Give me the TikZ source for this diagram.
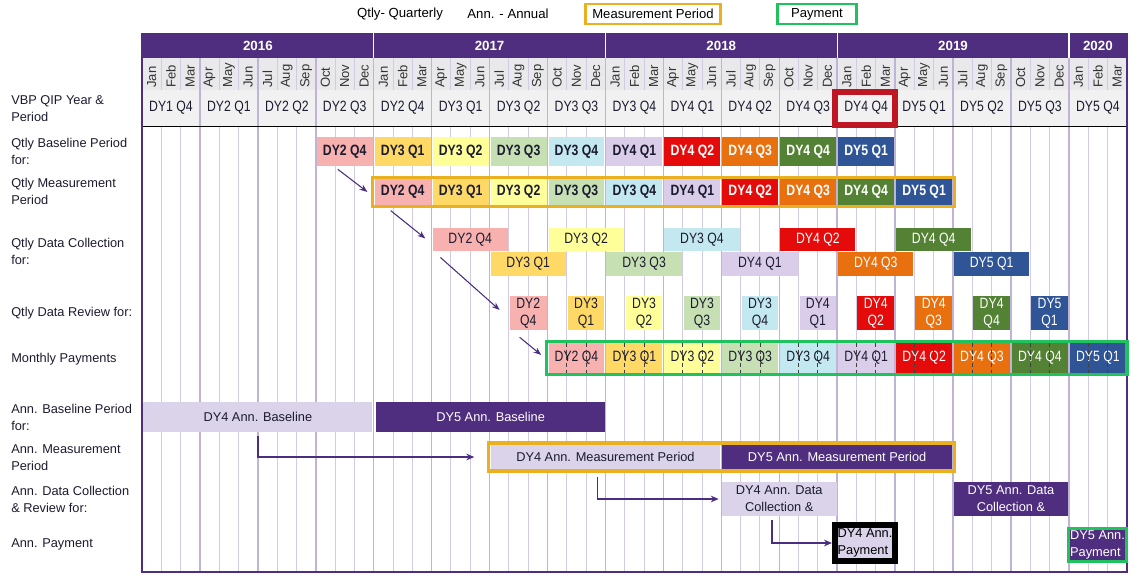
\documentclass[tikz,border=0pt]{standalone}
\usepackage{fontspec}
\setmainfont{Liberation Sans}
\newfontfamily\narrowfont{Liberation Sans}[FakeStretch=0.82]
\usepackage{tikz}
\usetikzlibrary{arrows.meta,calc}
\definecolor{dyPurple}{HTML}{4F2D7F}
\definecolor{arrowPurple}{HTML}{4B2E83}
\definecolor{gridLav}{HTML}{D3CBE3}
\definecolor{qLine}{HTML}{BFB3D6}
\definecolor{monthGrey}{HTML}{E9E9EB}
\definecolor{vbpGrey}{HTML}{F1F1F1}
\definecolor{annLav}{HTML}{DAD3E9}
\definecolor{goldLine}{HTML}{EBB01F}
\definecolor{payGreen}{HTML}{1FC25C}
\definecolor{redFrame}{HTML}{BE1622}
\definecolor{inkDark}{HTML}{1B1B2F}
\definecolor{qPink}{HTML}{F7B1AF}
\definecolor{qGold}{HTML}{FFD966}
\definecolor{qYellow}{HTML}{FFFF99}
\definecolor{qGreen}{HTML}{C6E0B4}
\definecolor{qCyan}{HTML}{C4E8EF}
\definecolor{qLav}{HTML}{DACDEA}
\definecolor{qRed}{HTML}{E60B0B}
\definecolor{qOrange}{HTML}{E8700F}
\definecolor{qDGreen}{HTML}{548235}
\definecolor{qBlue}{HTML}{2F5597}
\def\mw{14.4825pt}% one month
\def\qtrlist{DY2/Q4/qPink/inkDark, DY3/Q1/qGold/inkDark, DY3/Q2/qYellow/inkDark, DY3/Q3/qGreen/inkDark, DY3/Q4/qCyan/inkDark, DY4/Q1/qLav/inkDark, DY4/Q2/qRed/white, DY4/Q3/qOrange/white, DY4/Q4/qDGreen/white, DY5/Q1/qBlue/white}
\begin{document}
\begin{tikzpicture}[x=0.75pt, y=-0.75pt,
  rowlabel/.style={anchor=west, align=left, inner sep=0pt, text=inkDark, font=\fontsize{9.6}{12.7}\selectfont},
  qbar/.style={rectangle, inner sep=0pt, align=center, font=\narrowfont\fontsize{11.2}{12.7}\selectfont},
  qbold/.style={qbar, font=\narrowfont\bfseries\fontsize{11.2}{12.7}\selectfont},
  annbar/.style={rectangle, inner sep=0pt, align=center, font=\fontsize{9.6}{12.7}\selectfont},
  monthlab/.style={rotate=90, anchor=west, inner sep=0pt, text=black!80, font=\fontsize{9.8}{10}\selectfont},
  yearlab/.style={text=white, font=\bfseries\fontsize{10}{12}\selectfont},
  monthline/.style={gridLav, line width=0.75pt},
  qline/.style={qLine, line width=1.1pt},
  paydash/.style={black!75, line width=0.6pt, dash pattern=on 3pt off 2pt},
  flowarrow/.style={arrowPurple, line width=0.8pt, -{Stealth[length=6pt, width=4.5pt]}},
  elbowarrow/.style={arrowPurple, line width=1.4pt, -{Stealth[length=6pt, width=5pt]}},
  legbox/.style={draw, line width=1.9pt, minimum height=15pt, inner sep=0pt, font=\fontsize{9.8}{11}\selectfont},
]
\useasboundingbox (0,0) rectangle (1138,582);

% legend
\node[font=\fontsize{9.9}{11}\selectfont] (legq) at (400,14) {Qtly- Quarterly};
\node[font=\fontsize{9.9}{11}\selectfont] (lega) at (508,14) {Ann. - Annual};
\node[legbox, draw=goldLine, minimum width=101pt] (legm) at (653,14) {Measurement Period};
\node[legbox, draw=payGreen, minimum width=59pt] (legp) at (817,14) {Payment};

% header rows
\fill[dyPurple] (142,33) rectangle (1127,58);
\fill[monthGrey] (142,58) rectangle (1127,90);
\fill[vbpGrey] (142,90) rectangle (1127,126);
\foreach \i in {12,24,36,48} {
  \draw[white, line width=1pt] ({142+19.31*\i},33) -- ({142+19.31*\i},58);
}
\node[yearlab] (yr2016) at ({142+19.31*6},45.5) {2016};
\node[yearlab] (yr2017) at ({142+19.31*18},45.5) {2017};
\node[yearlab] (yr2018) at ({142+19.31*30},45.5) {2018};
\node[yearlab] (yr2019) at ({142+19.31*42},45.5) {2019};
\node[yearlab] (yr2020) at ({142+19.31*49.5},45.5) {2020};

% grid
\foreach \i in {1,...,50} {
  \draw[monthline] ({142+19.31*\i},58) -- ({142+19.31*\i},90);
  \draw[monthline] ({142+19.31*\i},126) -- ({142+19.31*\i},572);
}
\foreach \i in {3,6,...,48} {
  \draw[qline] ({142+19.31*\i},58) -- ({142+19.31*\i},572);
}
\foreach \yr in {0,...,4} {
  \foreach \mn [count=\j from 0] in {Jan,Feb,Mar,Apr,May,Jun,Jul,Aug,Sep,Oct,Nov,Dec} {
    \pgfmathtruncatemacro\mi{12*\yr+\j}
    \ifnum\mi<51 \node[monthlab] (mon\mi) at ({142+19.31*(\mi+0.5)},88) {\mn};\fi
  }
}
\draw[black, line width=0.75pt] (142,126) -- (1127,126);
\draw[dyPurple, line width=1.1pt] (1127,33) -- (1127,572) -- (142,572) -- (142,33);

% VBP QIP quarters
\foreach \lab [count=\i from 0] in {DY1 Q4, DY2 Q1, DY2 Q2, DY2 Q3, DY2 Q4, DY3 Q1, DY3 Q2, DY3 Q3, DY3 Q4, DY4 Q1, DY4 Q2, DY4 Q3, DY4 Q4, DY5 Q1, DY5 Q2, DY5 Q3, DY5 Q4} {
  \node[qbar, text=inkDark, minimum width=3*\mw, minimum height=27pt] (vbp\i) at ({142+19.31*(1.5+3*\i)},108) {\lab};
}
\draw[redFrame, line width=4.6pt] ($(vbp12.north west)+(-2,2)$) rectangle ($(vbp12.south east)+(0,-1)$);

% row labels
\node[rowlabel] (lvbp) at (11,108.5) {VBP QIP Year \&\\Period};
\node[rowlabel] (lbase) at (11,151.5) {Qtly Baseline Period\\for:};
\node[rowlabel] (lmeas) at (11,191.5) {Qtly Measurement\\Period};
\node[rowlabel] (lcoll) at (11,251.5) {Qtly Data Collection\\for:};
\node[rowlabel] (lrev) at (11,313) {Qtly Data Review for:};
\node[rowlabel] (lpay) at (11,359) {Monthly Payments};
\node[rowlabel] (labase) at (11,417.5) {Ann. Baseline Period\\for:};
\node[rowlabel] (lameas) at (11,458) {Ann. Measurement\\Period};
\node[rowlabel] (lacoll) at (11,499.5) {Ann. Data Collection\\\& Review for:};
\node[rowlabel] (lapay) at (11,544) {Ann. Payment};

% quarterly rows
\foreach \dy/\q/\col/\tc [count=\k from 0] in \qtrlist {
  \node[qbold, fill=\col, text=\tc, minimum width=3*\mw-1.5pt, minimum height=21.75pt] (bl\k) at ({142+19.31*(10.5+3*\k)},151.5) {\dy\ \q};
  \node[qbold, fill=\col, text=\tc, minimum width=3*\mw-1.5pt, minimum height=20pt] (ms\k) at ({142+19.31*(13.5+3*\k)},192) {\dy\ \q};
  \pgfmathsetmacro\cy{ifthenelse(mod(\k,2)==0,239.5,264)}
  \node[qbar, fill=\col, text=\tc, minimum width=4*\mw-1.5pt, minimum height=17.5pt] (cl\k) at ({142+19.31*(17+3*\k)},\cy) {\dy\ \q};
  \node[qbar, fill=\col, text=\tc, minimum width=2*\mw-1.5pt, minimum height=25.5pt] (rv\k) at ({142+19.31*(20+3*\k)},313) {\dy\\\q};
  \node[qbar, fill=\col, text=\tc, minimum width=3*\mw-1.5pt, minimum height=22.5pt] (pm\k) at ({142+19.31*(22.5+3*\k)},358) {\dy\ \q};
  \draw[paydash] ({142+19.31*(22+3*\k)},343) -- ++(0,30);
  \draw[paydash] ({142+19.31*(23+3*\k)},343) -- ++(0,30);
}
\draw[goldLine, line width=2.3pt] ({142+19.31*12-1.5},177.5) rectangle ({142+19.31*42+1.5},206.5);
\draw[payGreen, line width=2.3pt] ({142+19.31*21-1},341.5) rectangle (1127,374.5);

% annual rows
\node[annbar, fill=annLav, text=inkDark, minimum width=12*\mw-2pt, minimum height=22.5pt] (ab4) at ({142+19.31*6},417) {DY4 Ann. Baseline};
\node[annbar, fill=dyPurple, text=white, minimum width=12*\mw-2pt, minimum height=22.5pt] (ab5) at ({142+19.31*18+1},417) {DY5 Ann. Baseline};
\node[annbar, fill=annLav, text=inkDark, minimum width=12*\mw-1.5pt, minimum height=19.5pt] (am4) at ({142+19.31*24},457) {DY4 Ann. Measurement Period};
\node[annbar, fill=dyPurple, text=white, minimum width=12*\mw-1.5pt, minimum height=19.5pt] (am5) at ({142+19.31*36},457) {DY5 Ann. Measurement Period};
\draw[goldLine, line width=2.3pt] ({142+19.31*18-1.5},443) rectangle ({142+19.31*42+1.5},471);
\node[annbar, fill=annLav, text=inkDark, minimum width=6*\mw-1pt, minimum height=25.5pt] (ac4) at ({142+19.31*33},499) {DY4 Ann. Data\\Collection \&};
\node[annbar, fill=dyPurple, text=white, minimum width=6*\mw-1pt, minimum height=25.5pt] (ac5) at ({142+19.31*45},499) {DY5 Ann. Data\\Collection \&};
\node[annbar, align=left, draw=black, line width=4.5pt, fill=annLav, text=black, minimum width=45pt, minimum height=27pt] (ap4) at (865,543) {DY4 Ann.\\Payment};
\node[annbar, align=left, draw=payGreen, line width=2.3pt, fill=dyPurple, text=white, minimum width=43.5pt, minimum height=24.75pt] (ap5) at (1097.5,545) {DY5 Ann.\\Payment};

% connectors
\draw[flowarrow] ($(bl0.south)+(-7,3)$) -- ($(ms0.west)+(-7,0)$);
\draw[flowarrow] ($(ms0.south)+(-12,5)$) -- ($(cl0.west)+(-7,-1)$);
\draw[flowarrow] ($(cl0.south west)+(8,6)$) -- ($(rv0.west)+(-10,-3)$);
\draw[flowarrow] ($(rv0.south west)+(10,7)$) -- ($(pm0.west)+(-7,-3)$);
\draw[elbowarrow] ($(ab4.south)+(0,4)$) |- ($(am4.west)+(-16,0)$);
\draw[elbowarrow] ($(am4.south)+(-8,7)$) |- ($(ac4.west)+(-3,0)$);
\draw[elbowarrow] ($(ac4.south)+(-7,4)$) |- (ap4.west);
\end{tikzpicture}
\end{document}
